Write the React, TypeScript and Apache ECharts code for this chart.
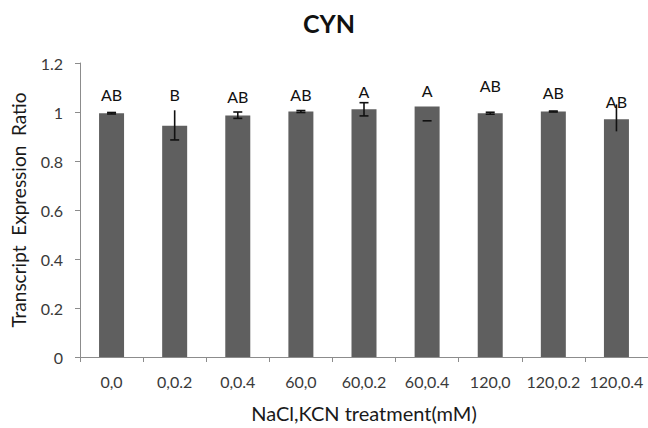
import React, { useEffect, useRef } from "react";
import * as echarts from "echarts";

const chartTitle = "CYN";
const xAxisTitle = "NaCl,KCN treatment(mM)";
const yAxisTitle = "Transcript  Expression  Ratio";
const categories = ["0,0", "0,0.2", "0,0.4", "60,0", "60,0.2", "60,0.4", "120,0", "120,0.2", "120,0.4"];
const ratios = [0.995, 0.944, 0.986, 1.002, 1.011, 1.022, 0.995, 1.002, 0.97];
const errPlus = [0.003, 0.063, 0.014, 0.004, 0.027, 0, 0.004, 0.002, 0.061];
const errMinus = [0.003, 0.058, 0.012, 0.004, 0.027, 0.058, 0.004, 0.002, 0.049];
const showStem = [true, true, true, true, true, false, true, true, true];
const showCapTop = [true, false, true, true, true, false, true, true, false];
const showCapBottom = [true, true, true, true, true, true, true, true, false];
const letters = ["AB", "B", "AB", "AB", "A", "A", "AB", "AB", "AB"];
const letterY = [1.071, 1.071, 1.063, 1.071, 1.084, 1.087, 1.108, 1.079, 1.043];
const yMin = 0;
const yMax = 1.2;
const yStep = 0.2;

const FONT = "Lato, 'Open Sans', sans-serif";

export default function App() {
  const ref = useRef<HTMLDivElement>(null);

  useEffect(() => {
    if (!ref.current) return;
    const chart = echarts.init(ref.current, null, { renderer: "svg" });
    const errData = ratios.map((v, i) => [i, v, errPlus[i], errMinus[i]]);
    const letterData = letters.map((t, i) => [i, letterY[i], t]);

    chart.setOption({
      animation: false,
      backgroundColor: "#ffffff",
      title: {
        text: chartTitle,
        left: 324,
        textAlign: "center",
        top: 5,
        textStyle: { fontFamily: FONT, fontSize: 25, fontWeight: "bold", color: "#111" },
      },
      grid: { left: 80, right: 0, top: 63, bottom: 66, containLabel: false },
      xAxis: {
        type: "category",
        data: categories,
        name: xAxisTitle,
        nameLocation: "middle",
        nameGap: 46,
        nameTextStyle: { fontFamily: FONT, fontSize: 20, color: "#1a1a1a" },
        axisLine: { lineStyle: { color: "#8c8c8c", width: 1 } },
        axisTick: { show: true, interval: 0, length: 5, alignWithLabel: false, lineStyle: { color: "#8c8c8c" } },
        axisLabel: { interval: 0, margin: 16, fontFamily: FONT, fontSize: 16, color: "#3a3a3a" },
      },
      yAxis: {
        type: "value",
        min: yMin,
        max: yMax,
        interval: yStep,
        name: yAxisTitle,
        nameLocation: "middle",
        nameGap: 52,
        nameRotate: 90,
        nameTextStyle: { fontFamily: FONT, fontSize: 19, color: "#1a1a1a" },
        axisLine: { show: true, lineStyle: { color: "#8c8c8c", width: 1 } },
        axisTick: { show: true, length: 5, lineStyle: { color: "#8c8c8c" } },
        splitLine: { show: false },
        axisLabel: {
          margin: 17,
          fontFamily: FONT,
          fontSize: 16,
          color: "#3a3a3a",
          formatter: (v: number) => (Math.abs(v - 1) < 1e-9 ? "1" : v === 0 ? "0" : v.toFixed(1)),
        },
      },
      series: [
        {
          type: "bar",
          data: ratios,
          barWidth: 25,
          itemStyle: { color: "#5f5f5f" },
          z: 2,
        },
        {
          type: "custom",
          data: errData,
          z: 5,
          renderItem: (params: any, api: any) => {
            const i = api.value(0);
            const v = api.value(1);
            const hi = api.coord([i, v + api.value(2)]);
            const lo = api.coord([i, v - api.value(3)]);
            const hw = 4.5;
            const style = { stroke: "#111", lineWidth: 1.6 };
            const children: any[] = [];
            if (showStem[i]) {
              children.push({ type: "line", shape: { x1: hi[0], y1: hi[1], x2: lo[0], y2: lo[1] }, style });
            }
            if (showCapTop[i]) {
              children.push({ type: "line", shape: { x1: hi[0] - hw, y1: hi[1], x2: hi[0] + hw, y2: hi[1] }, style });
            }
            if (showCapBottom[i]) {
              children.push({ type: "line", shape: { x1: lo[0] - hw, y1: lo[1], x2: lo[0] + hw, y2: lo[1] }, style });
            }
            return { type: "group", children };
          },
        },
        {
          type: "custom",
          data: letterData,
          z: 6,
          renderItem: (params: any, api: any) => {
            const i = api.value(0);
            const p = api.coord([i, api.value(1)]);
            return {
              type: "text",
              x: p[0],
              y: p[1],
              style: {
                text: letters[i],
                fontFamily: FONT,
                fontSize: 16,
                fill: "#111",
                align: "center",
                verticalAlign: "middle",
              },
            };
          },
        },
      ],
    });
    return () => chart.dispose();
  }, []);

  return (
    <div
      ref={ref}
      style={{ position: "absolute", left: 0, top: 0, width: 648, height: 428, background: "#fff" }}
    />
  );
}
